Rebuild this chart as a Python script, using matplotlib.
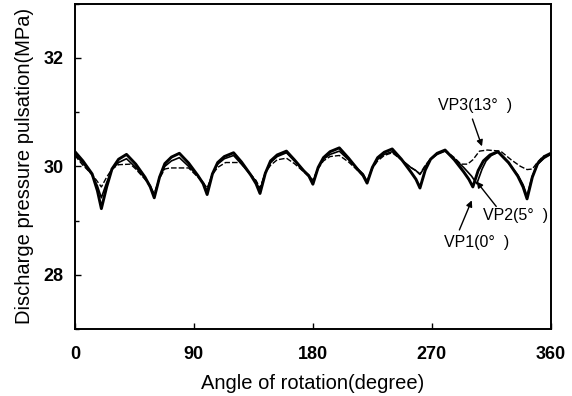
import matplotlib
matplotlib.use("Agg")
import matplotlib.pyplot as plt
from matplotlib.ticker import MultipleLocator

plt.rcParams['font.family'] = ['Liberation Sans', 'DejaVu Sans']

# VP1 (0 deg) - thick solid
vp1_angle = [0, 6, 13, 17, 20, 24, 28, 33, 39,
             46, 53, 57, 60, 64, 68, 73, 79,
             86, 93, 97, 100, 104, 108, 113, 120,
             126, 133, 137, 140, 144, 148, 153, 160,
             166, 173, 177, 180, 184, 188, 193, 200,
             207, 214, 218, 221, 225, 229, 234, 240,
             247, 254, 258, 261, 265, 269, 274, 280,
             287, 294, 298, 301, 305, 309, 314, 320,
             328, 335, 339, 342, 346, 350, 355, 360]
vp1_press = [30.27, 30.10, 29.86, 29.55, 29.22, 29.62, 29.95, 30.13, 30.22,
             30.04, 29.80, 29.62, 29.42, 29.80, 30.05, 30.17, 30.24,
             30.06, 29.83, 29.68, 29.48, 29.86, 30.07, 30.18, 30.25,
             30.08, 29.84, 29.68, 29.50, 29.87, 30.10, 30.21, 30.28,
             30.12, 29.92, 29.82, 29.67, 29.98, 30.16, 30.27, 30.34,
             30.15, 29.94, 29.83, 29.69, 29.98, 30.16, 30.26, 30.32,
             30.13, 29.90, 29.76, 29.60, 29.93, 30.13, 30.24, 30.30,
             30.12, 29.90, 29.76, 29.62, 29.92, 30.10, 30.21, 30.27,
             30.07, 29.82, 29.62, 29.40, 29.80, 30.05, 30.18, 30.24]

# VP2 (5 deg) - thin solid
vp2_angle = [0, 6, 13, 17, 20, 24, 28, 33, 39,
             46, 53, 57, 60, 64, 68, 73, 79,
             86, 93, 97, 100, 104, 108, 113, 120,
             126, 133, 137, 140, 144, 148, 153, 160,
             166, 173, 177, 180, 184, 188, 193, 200,
             207, 214, 218, 221, 225, 229, 234, 240,
             247, 254, 258, 261, 265, 269, 274, 280,
             287, 294, 300, 304, 308, 311, 315, 320,
             328, 335, 339, 342, 346, 350, 355, 360]
vp2_press = [30.22, 30.06, 29.84, 29.64, 29.42, 29.70, 29.94, 30.07, 30.14,
             29.98, 29.78, 29.64, 29.45, 29.80, 30.00, 30.10, 30.16,
             30.00, 29.82, 29.70, 29.55, 29.86, 30.04, 30.14, 30.20,
             30.04, 29.84, 29.72, 29.55, 29.88, 30.07, 30.18, 30.25,
             30.10, 29.92, 29.84, 29.70, 29.97, 30.13, 30.22, 30.28,
             30.12, 29.95, 29.86, 29.72, 29.98, 30.13, 30.22, 30.27,
             30.12, 29.98, 29.92, 29.85, 30.00, 30.13, 30.22, 30.28,
             30.14, 29.98, 29.82, 29.68, 29.95, 30.10, 30.20, 30.26,
             30.06, 29.84, 29.66, 29.45, 29.82, 30.04, 30.15, 30.22]

# VP3 (13 deg) - thin dashed
vp3_angle = [0, 6, 13, 17, 20, 24, 28, 33, 42,
             46, 53, 57, 60, 64, 68, 72, 86,
             93, 97, 100, 104, 108, 114, 125,
             133, 137, 140, 144, 148, 153, 160,
             166, 173, 177, 180, 184, 188, 193, 200,
             207, 214, 218, 221, 225, 229, 234, 240,
             247, 254, 258, 261, 265, 269, 274, 280,
             287, 292, 297, 301, 306, 312, 322,
             330, 337, 342, 346, 350, 354, 360]
vp3_press = [30.20, 30.02, 29.85, 29.72, 29.62, 29.80, 29.95, 30.03, 30.04,
             29.95, 29.76, 29.62, 29.50, 29.78, 29.95, 29.97, 29.97,
             29.80, 29.70, 29.60, 29.85, 29.98, 30.07, 30.07,
             29.85, 29.74, 29.60, 29.88, 30.02, 30.12, 30.15,
             30.05, 29.90, 29.82, 29.75, 29.96, 30.10, 30.18, 30.20,
             30.08, 29.92, 29.84, 29.72, 29.96, 30.10, 30.20, 30.25,
             30.12, 29.98, 29.92, 29.86, 30.02, 30.14, 30.24, 30.30,
             30.16, 30.04, 30.04, 30.12, 30.28, 30.30, 30.28,
             30.12, 30.00, 29.94, 29.95, 30.08, 30.18, 30.22]

x_ticks = [0, 90, 180, 270, 360]
y_ticks = [28, 30, 32]

fig = plt.figure(figsize=(5.72, 3.96), dpi=100)
ax = fig.add_axes([0.131, 0.169, 0.832, 0.822])

ax.plot(vp3_angle, vp3_press, color='black', lw=1.0, ls=(0, (4, 1.5)))
ax.plot(vp2_angle, vp2_press, color='black', lw=1.2)
ax.plot(vp1_angle, vp1_press, color='black', lw=2.1)

ax.set_xlim(0, 360)
ax.set_ylim(27, 33)
ax.set_xticks(x_ticks)
ax.set_yticks(y_ticks)
ax.yaxis.set_minor_locator(MultipleLocator(1))
ax.tick_params(which='both', direction='in', width=1.0)
ax.tick_params(which='major', length=4, labelsize=13, pad=8)
ax.tick_params(axis='x', which='major', pad=12)
ax.tick_params(which='minor', length=3)
for lab in ax.get_xticklabels() + ax.get_yticklabels():
    lab.set_fontweight('bold')
for s in ax.spines.values():
    s.set_linewidth(1.4)

ax.set_xlabel('Angle of rotation(degree)', fontsize=14.5, labelpad=8)
ax.set_ylabel('Discharge pressure pulsation(MPa)', fontsize=14.5, labelpad=7)

arrow = dict(arrowstyle='-|>', color='black', lw=1.0, mutation_scale=9)
ax.text(275, 31.12, 'VP3(13°  )', fontsize=11.5, va='center', ha='left')
ax.annotate('', xy=(308.6, 30.32), xytext=(300, 30.92), arrowprops=arrow)
ax.text(308.6, 29.09, 'VP2(5°  )', fontsize=11.5, va='center', ha='left')
ax.annotate('', xy=(302.5, 29.76), xytext=(320, 29.22), arrowprops=arrow)
ax.text(279, 28.6, 'VP1(0°  )', fontsize=11.5, va='center', ha='left')
ax.annotate('', xy=(301, 29.42), xytext=(290, 28.78), arrowprops=arrow)

fig.savefig('out.png', dpi=100)
